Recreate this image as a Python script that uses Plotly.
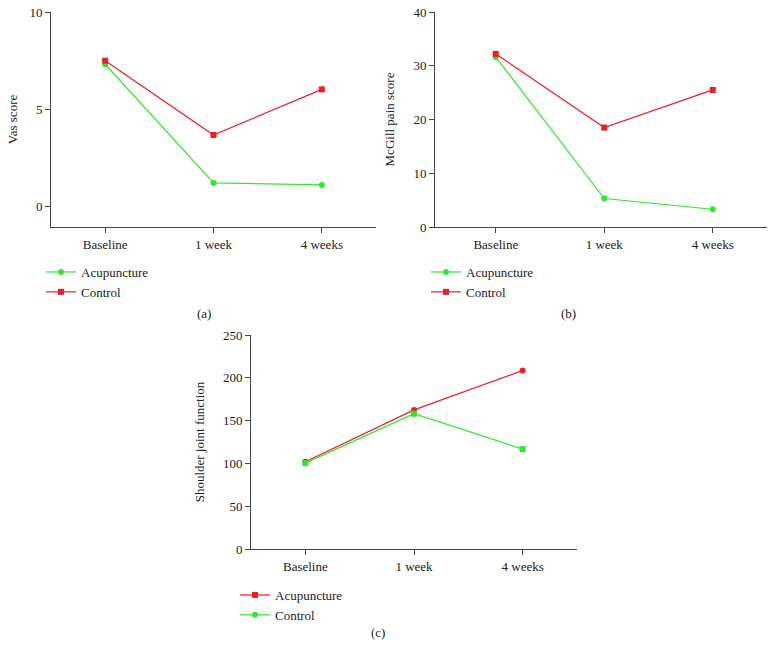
import plotly.graph_objects as go

W, H = 776, 649

# ── data ────────────────────────────────────────────────────────────────
categories = ["Baseline", "1 week", "4 weeks"]

vas_acupuncture = [7.32, 1.23, 1.13]
vas_control = [7.5, 3.69, 6.03]

mcgill_acupuncture = [31.6, 5.3, 3.3]
mcgill_control = [32.2, 18.5, 25.5]

shoulder_acupuncture = [102, 162.5, 208.4]
shoulder_control = [100.3, 158, 116.7]

RED = "#ee1d24"
GREEN = "#2ee82e"
FONT = "Liberation Serif, Times New Roman, serif"
FS = 13


def px_x(p):
    return p / W


def px_y(p):
    return 1 - p / H


fig = go.Figure()


def line(x, y, name, color, symbol, xa, ya, legend, showlegend=True):
    fig.add_trace(go.Scatter(
        x=x, y=y, name=name, mode="lines+markers",
        line=dict(color=color, width=1.2),
        marker=dict(color=color, size=6, symbol=symbol),
        xaxis=xa, yaxis=ya, legend=legend, showlegend=showlegend,
    ))


# (a) Vas score
line(categories, vas_acupuncture, "Acupuncture", GREEN, "circle", "x", "y", "legend")
line(categories, vas_control, "Control", RED, "square", "x", "y", "legend")

# (b) McGill pain score
line(categories, mcgill_acupuncture, "Acupuncture", GREEN, "circle", "x2", "y2", "legend2")
line(categories, mcgill_control, "Control", RED, "square", "x2", "y2", "legend2")

# (c) Shoulder joint function (legend symbols differ from plotted ones in the source)
line(categories, shoulder_acupuncture, "Acupuncture", RED, "circle", "x3", "y3", "legend3", False)
line(categories, shoulder_control, "Control", GREEN, "square", "x3", "y3", "legend3", False)
line([None], [None], "Acupuncture", RED, "square", "x3", "y3", "legend3")
line([None], [None], "Control", GREEN, "circle", "x3", "y3", "legend3")

axis_common = dict(
    showline=True, linecolor="#444", linewidth=1,
    ticks="outside", tickcolor="#444", ticklen=5, tickwidth=1,
    showgrid=False, zeroline=False, automargin=False,
    ticklabeloverflow="allow",
    tickfont=dict(family=FONT, size=FS, color="#222"),
)
title_font = dict(family=FONT, size=FS, color="#222")
legend_common = dict(xanchor="left", yanchor="top", itemwidth=30,
                     bgcolor="rgba(0,0,0,0)", font=dict(family=FONT, size=FS, color="#222"))

fig.update_layout(
    width=W, height=H, autosize=False,
    margin=dict(l=0, r=0, t=0, b=0, pad=0),
    paper_bgcolor="white", plot_bgcolor="white",
    font=dict(family=FONT, size=FS, color="#222"),
    xaxis=dict(domain=[px_x(51), px_x(376)], range=[-0.5, 2.5], anchor="y", **axis_common),
    yaxis=dict(domain=[px_y(227), px_y(12)], range=[-1.03, 10], tickvals=[0, 5, 10],
               anchor="x", title=dict(text="Vas score", font=title_font, standoff=8), **axis_common),
    xaxis2=dict(domain=[px_x(435), px_x(767)], range=[-0.56, 2.5], anchor="y2", **axis_common),
    yaxis2=dict(domain=[px_y(227), px_y(12)], range=[0, 40], tickvals=[0, 10, 20, 30, 40],
                anchor="x2", title=dict(text="McGill pain score", font=title_font), **axis_common),
    xaxis3=dict(domain=[px_x(251), px_x(577)], range=[-0.5, 2.5], anchor="y3", **axis_common),
    yaxis3=dict(domain=[px_y(549), px_y(335)], range=[0, 250], tickvals=[0, 50, 100, 150, 200, 250],
                anchor="x3", title=dict(text="Shoulder joint function", font=title_font),
                **axis_common),
    legend=dict(x=px_x(41), y=px_y(257), **legend_common),
    legend2=dict(x=px_x(426), y=px_y(257), **legend_common),
    legend3=dict(x=px_x(235), y=px_y(580), **legend_common),
    annotations=[
        dict(text="(a)", x=px_x(195), y=px_y(313), xref="paper", yref="paper", showarrow=False,
             font=dict(family=FONT, size=FS)),
        dict(text="(b)", x=px_x(578), y=px_y(313), xref="paper", yref="paper", showarrow=False,
             font=dict(family=FONT, size=FS)),
        dict(text="(c)", x=px_x(378), y=px_y(642), xref="paper", yref="paper", showarrow=False,
             font=dict(family=FONT, size=FS)),
    ],
)

# drop the default body margin so the figure sits flush in the window
fig.write_html("out.html", config={"displayModeBar": False},
               post_script="document.body.style.margin='0';")
